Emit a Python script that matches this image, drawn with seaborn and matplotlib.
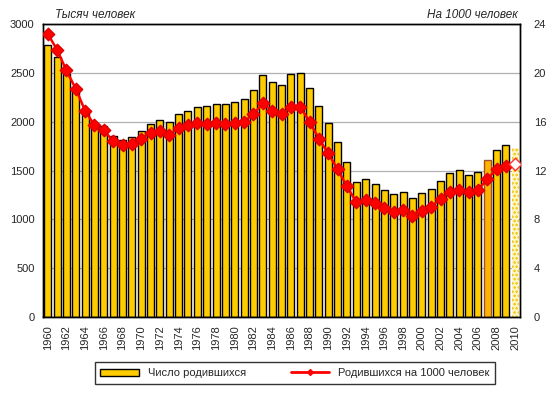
import matplotlib
matplotlib.use("Agg")
import matplotlib.pyplot as plt
import seaborn as sns
import pandas as pd
import numpy as np
from matplotlib.patches import Patch
from matplotlib.lines import Line2D

years = list(range(1960, 2011))
births = [2782, 2662, 2483, 2332, 2122, 1991, 1958, 1851, 1817, 1848,
          1904, 1975, 2015, 1995, 2080, 2106, 2147, 2157, 2179, 2179,
          2203, 2237, 2328, 2478, 2410, 2375, 2486, 2500, 2349, 2161,
          1989, 1795, 1588, 1379, 1408, 1364, 1305, 1260, 1283, 1215,
          1267, 1312, 1397, 1477, 1502, 1457, 1480, 1610, 1714, 1762,
          1730]
rate = [23.2, 21.9, 20.2, 18.7, 16.9, 15.7, 15.3, 14.4, 14.1, 14.2,
        14.6, 15.1, 15.2, 14.9, 15.5, 15.7, 15.9, 15.8, 15.9, 15.8,
        15.9, 16.0, 16.6, 17.5, 16.9, 16.6, 17.2, 17.2, 16.0, 14.6,
        13.4, 12.1, 10.7, 9.4, 9.6, 9.3, 8.9, 8.6, 8.8, 8.3,
        8.7, 9.0, 9.7, 10.2, 10.4, 10.2, 10.4, 11.3, 12.1, 12.4,
        12.5]
left_ticks = [0, 500, 1000, 1500, 2000, 2500, 3000]
right_ticks = [0, 4, 8, 12, 16, 20, 24]
label_bars = "Число родившихся"
label_line = "Родившихся на 1000 человек"
title_left = "Тысяч человек"
title_right = "На 1000 человек"

df = pd.DataFrame({"year": years, "births": births, "rate": rate})
df["pos"] = np.arange(len(df))

sns.set_style("white")
plt.rcParams["font.family"] = ["Liberation Sans", "DejaVu Sans"]
plt.rcParams["font.size"] = 8
plt.rcParams["hatch.linewidth"] = 1.2

fig = plt.figure(figsize=(5.53, 3.93), dpi=100)
ax = fig.add_axes([43/553, 1-317/393, (520-43)/553, (317-24)/393])

sns.barplot(data=df, x="pos", y="births", color="#FFCC00", width=0.75,
            edgecolor="black", linewidth=1.0, saturation=1, ax=ax, zorder=2)
patches = ax.patches
# 2007 highlighted bar
i07 = years.index(2007)
patches[i07].set_facecolor("#FFB400")
patches[i07].set_edgecolor("#A0522D")
# 2010 preliminary bar
i10 = years.index(2010)
patches[i10].set_facecolor("#FFF6C8")
patches[i10].set_edgecolor("#F2C200")
patches[i10].set_hatch("....")
patches[i10].set_linewidth(0)

ax.set_ylim(0, 3000)
ax.set_xlim(-0.5, len(years) - 0.5)
ax.set_yticks(left_ticks)
ax.set_yticklabels([str(t) for t in left_ticks])
ax.yaxis.grid(True, color="#B0B0B0", linewidth=0.9, zorder=0)
ax.set_axisbelow(True)
ax.set_xticks(df["pos"][::2])
ax.set_xticklabels([str(y) for y in years[::2]], rotation=90)
ax.set_xlabel("")
ax.set_ylabel("")
ax.tick_params(axis="both", length=0, pad=6, labelsize=8)
for s in ax.spines.values():
    s.set_color("black")
    s.set_linewidth(1)

ax2 = ax.twinx()
sns.lineplot(data=df, x="pos", y="rate", color="#FF0000", linewidth=1.8,
             ax=ax2, zorder=3)
sub = df.iloc[:-1]
ax2.scatter(sub["pos"], sub["rate"], marker="D", s=40, color="#FF0000",
            edgecolor="#E00000", zorder=4)
ax2.scatter(df["pos"].iloc[-1:], df["rate"].iloc[-1:], marker="D", s=40,
            facecolor="white", edgecolor="#FF3030", linewidth=1, zorder=4)
ax2.set_ylim(0, 24)
ax2.set_yticks(right_ticks)
ax2.set_yticklabels([str(t) for t in right_ticks])
ax2.set_ylabel("")
ax2.tick_params(axis="y", length=0, pad=10, labelsize=8)
for s in ax2.spines.values():
    s.set_color("black")
    s.set_linewidth(1)

fig.text(55/553, 1-15/393, title_left, style="italic", fontsize=8.5,
         ha="left", va="center")
fig.text(518/553, 1-15/393, title_right, style="italic", fontsize=8.5,
         ha="right", va="center")

handles = [Patch(facecolor="#FFCC00", edgecolor="black", linewidth=1),
           Line2D([0], [0], color="#FF0000", linewidth=2, marker="D",
                  markersize=3)]
leg = fig.legend(handles, [label_bars, label_line], ncol=2,
                 loc="center", bbox_to_anchor=(295/553, 1-373/393),
                 frameon=True, fancybox=False, edgecolor="black",
                 fontsize=8, handlelength=3.5, handleheight=0.6,
                 columnspacing=4, borderpad=0.5)
leg.get_frame().set_linewidth(1)

fig.savefig("out.png", dpi=100)
